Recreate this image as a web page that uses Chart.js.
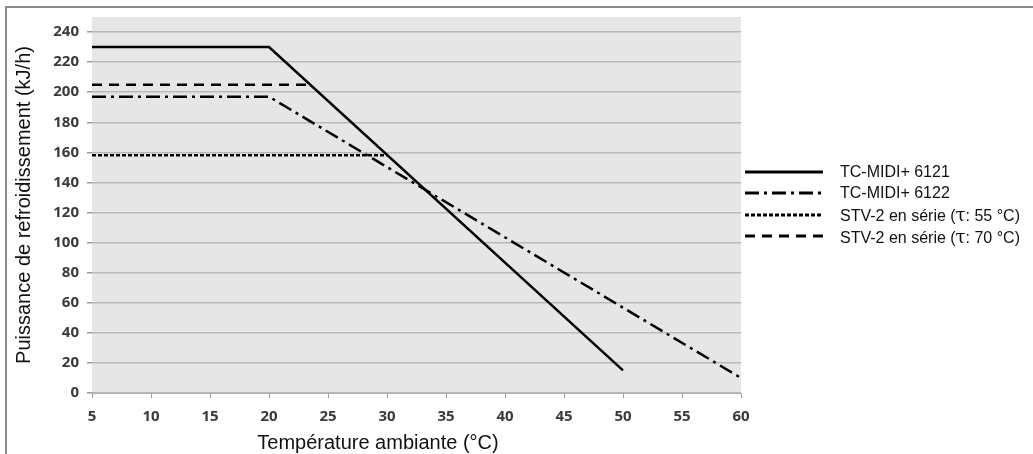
<!DOCTYPE html>
<html>
<head>
<meta charset="utf-8">
<script src="https://cdn.jsdelivr.net/npm/chart.js@4"></script>
<style>
  body { margin: 0; background: #fff; }
  #wrap { position: relative; width: 1033px; height: 454px; overflow: hidden; }
  #frame { position: absolute; left: 5px; top: 6px; width: 1040px; height: 460px; border-left: 2px solid #8a8a8a; border-top: 2px solid #8a8a8a; }
  #chart { position: absolute; left: 0; top: 0; }
  #xtitle { position: absolute; left: 178px; top: 431px; width: 400px; text-align: center; font-family: "Liberation Sans", Arial, sans-serif; font-size: 20px; line-height: 22px; color: #111; }
  #legend { position: absolute; left: 745px; top: 161px; font-family: "Liberation Sans", Arial, sans-serif; font-size: 16px; color: #111; }
  .row { height: 21.5px; display: flex; align-items: center; }
  .row svg { width: 80px; height: 6px; margin-right: 15px; }
  .tau { font-family: "DejaVu Serif", serif; font-size: 18px; }
</style>
</head>
<body>
<div id="wrap">
  <div id="frame"></div>
  <canvas id="chart" width="1033" height="454"></canvas>
  <div id="xtitle">Température ambiante (°C)</div>
  <div id="legend"></div>
</div>
<script>
// Courbes (température ambiante °C -> puissance kJ/h)
const temps6121 = [5, 20, 50];
const power6121 = [230, 230, 15];
const temps6122 = [5, 20, 60];
const power6122 = [197, 197, 10];
const tempsStv55 = [5, 30];
const powerStv55 = [158, 158];
const tempsStv70 = [5, 23.5];
const powerStv70 = [205, 205];

const xTicks = [5, 10, 15, 20, 25, 30, 35, 40, 45, 50, 55, 60];
const yTicks = [0, 20, 40, 60, 80, 100, 120, 140, 160, 180, 200, 220, 240];

const seriesNames = [
  "TC-MIDI+ 6121",
  "TC-MIDI+ 6122",
  "STV-2 en série (τ: 55 °C)",
  "STV-2 en série (τ: 70 °C)"
];
const dashes = [[], [14, 5, 3, 5], [4, 2], [10, 7]];

function pts(xs, ys) {
  return xs.map((x, i) => ({ x: x, y: ys[i] }));
}

const allData = [
  pts(temps6121, power6121),
  pts(temps6122, power6122),
  pts(tempsStv55, powerStv55),
  pts(tempsStv70, powerStv70)
];

// fond gris de la zone de tracé
const plotBg = {
  id: "plotBg",
  beforeDraw(chart) {
    const a = chart.chartArea;
    const ctx = chart.ctx;
    ctx.save();
    ctx.fillStyle = "#e6e6e6";
    ctx.fillRect(a.left, a.top, a.right - a.left, a.bottom - a.top);
    ctx.restore();
  }
};

const tickFont = { family: "'Open Sans', sans-serif", size: 15, weight: "bold" };
const titleFont = { family: "'Liberation Sans', Arial, sans-serif", size: 20 };

new Chart(document.getElementById("chart"), {
  type: "line",
  data: {
    datasets: allData.map((d, i) => ({
      label: seriesNames[i],
      data: d,
      borderColor: "#000",
      borderWidth: 2.5,
      borderDash: dashes[i],
      pointRadius: 0,
      tension: 0,
      fill: false
    }))
  },
  options: {
    responsive: false,
    animation: false,
    layout: { padding: { left: 12, right: 292, top: 2, bottom: 4 } },
    plugins: { legend: { display: false }, tooltip: { enabled: false } },
    scales: {
      x: {
        type: "linear",
        min: 5,
        max: 60,
        afterBuildTicks: s => { s.ticks = xTicks.map(v => ({ value: v })); },
        afterFit: s => { s.height = 57; },
        ticks: { font: tickFont, color: "#3a3a3a", padding: 10 },
        grid: { drawOnChartArea: false, tickLength: 5, color: "#9a9a9a" },
        border: { color: "#b0b0b0" }
      },
      y: {
        min: 0,
        max: 250,
        afterBuildTicks: s => { s.ticks = yTicks.map(v => ({ value: v })); },
        afterFit: s => { s.width = 80; },
        ticks: { font: tickFont, color: "#3a3a3a", padding: 8 },
        grid: { color: "#b9b9b9", lineWidth: 1.5, tickLength: 5, tickColor: "#9a9a9a" },
        border: { display: false },
        title: { display: true, text: "Puissance de refroidissement (kJ/h)", font: titleFont, color: "#111", padding: 0 }
      }
    }
  },
  plugins: [plotBg]
});

// légende à droite
const legend = document.getElementById("legend");
seriesNames.forEach((name, i) => {
  const row = document.createElement("div");
  row.className = "row";
  const dash = dashes[i].length ? dashes[i].join(" ") : "none";
  row.innerHTML = '<svg viewBox="0 0 80 6"><line x1="0" y1="3" x2="78" y2="3" stroke="#000" stroke-width="3" stroke-dasharray="' + dash + '"/></svg>';
  const span = document.createElement("span");
  const parts = name.split("τ");
  span.appendChild(document.createTextNode(parts[0]));
  if (parts.length > 1) {
    const t = document.createElement("span");
    t.className = "tau";
    t.textContent = "τ";
    span.appendChild(t);
    span.appendChild(document.createTextNode(parts[1]));
  }
  row.appendChild(span);
  legend.appendChild(row);
});
</script>
</body>
</html>
